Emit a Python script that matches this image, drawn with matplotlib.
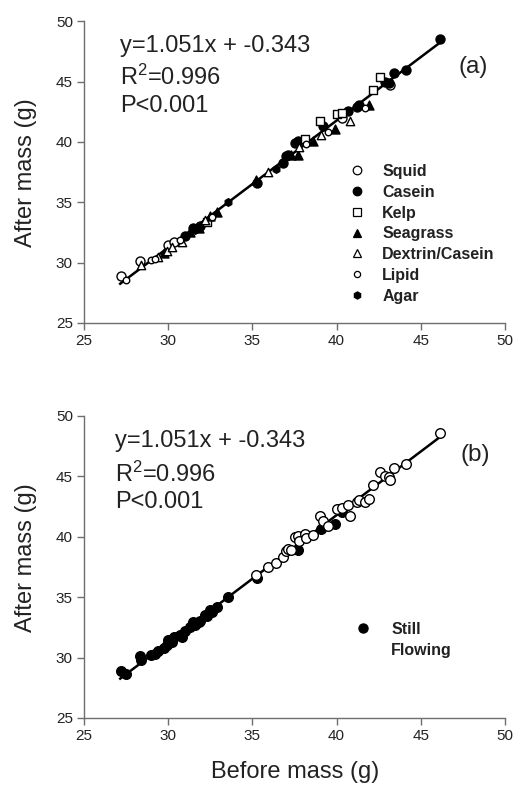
import numpy as np
import matplotlib
matplotlib.use("Agg")
import matplotlib.pyplot as plt
from matplotlib.lines import Line2D

plt.rcParams['font.family'] = ['Liberation Sans', 'DejaVu Sans']
plt.rcParams['mathtext.fontset'] = 'custom'
plt.rcParams['mathtext.rm'] = 'Liberation Sans'
plt.rcParams['mathtext.it'] = 'Liberation Sans'

# ---- data ----
before = [27.2, 27.5, 28.3, 28.4, 28.95, 29.2, 29.4, 29.75, 29.9, 30.0,
          30.2, 30.35, 30.7, 30.8, 31.0, 31.3, 31.45, 31.6, 31.8, 31.9,
          32.2, 32.3, 32.6, 32.5, 32.9, 33.55, 35.2, 35.3, 35.9, 36.4,
          36.8, 37.0, 37.1, 37.3, 37.55, 37.7, 37.75, 37.7, 38.15, 38.2,
          38.6, 39.0, 39.1, 39.2, 39.5, 39.9, 40.0, 40.3, 40.3, 40.7,
          40.8, 41.2, 41.35, 41.7, 41.9, 42.15, 42.6, 42.9, 43.1, 43.2,
          43.4, 44.1, 46.15]
after = [28.9, 28.6, 30.1, 29.8, 30.2, 30.3, 30.5, 30.8, 31.0, 31.45,
         31.3, 31.7, 31.9, 31.7, 32.2, 32.5, 32.9, 32.7, 32.9, 33.0,
         33.5, 33.4, 33.75, 33.9, 34.2, 35.0, 36.85, 36.6, 37.5, 37.8,
         38.3, 38.85, 38.95, 38.9, 39.95, 40.05, 39.6, 38.9, 40.25, 39.85,
         40.1, 41.7, 40.6, 41.3, 40.85, 41.05, 42.3, 42.4, 42.0, 42.6,
         41.7, 42.9, 43.05, 42.85, 43.1, 44.3, 45.35, 45.0, 44.9, 44.7,
         45.7, 46.0, 48.55]
diet = ['Squid', 'Lipid', 'Squid', 'Dextrin/Casein', 'Lipid', 'Lipid', 'Dextrin/Casein', 'Seagrass', 'Dextrin/Casein', 'Squid',
        'Dextrin/Casein', 'Squid', 'Lipid', 'Dextrin/Casein', 'Casein', 'Seagrass', 'Casein', 'Agar', 'Seagrass', 'Casein',
        'Dextrin/Casein', 'Kelp', 'Lipid', 'Seagrass', 'Seagrass', 'Agar', 'Seagrass', 'Casein', 'Dextrin/Casein', 'Agar',
        'Casein', 'Casein', 'Casein', 'Seagrass', 'Casein', 'Casein', 'Dextrin/Casein', 'Seagrass', 'Kelp', 'Lipid',
        'Seagrass', 'Kelp', 'Dextrin/Casein', 'Casein', 'Lipid', 'Seagrass', 'Kelp', 'Kelp', 'Squid', 'Casein',
        'Dextrin/Casein', 'Casein', 'Casein', 'Lipid', 'Seagrass', 'Kelp', 'Kelp', 'Casein', 'Casein', 'Squid',
        'Casein', 'Casein', 'Casein']
flow = ['Still'] * 26 + ['Flowing', 'Still', 'Flowing', 'Flowing',
        'Flowing', 'Flowing', 'Flowing', 'Flowing', 'Flowing', 'Flowing', 'Flowing', 'Still', 'Flowing', 'Flowing',
        'Flowing', 'Flowing', 'Still', 'Flowing', 'Flowing', 'Still', 'Flowing', 'Flowing', 'Still', 'Flowing',
        'Flowing', 'Flowing', 'Flowing', 'Flowing', 'Flowing', 'Flowing', 'Flowing', 'Flowing', 'Flowing', 'Flowing',
        'Flowing', 'Flowing', 'Flowing']

diet_order = ['Squid', 'Casein', 'Kelp', 'Seagrass', 'Dextrin/Casein', 'Lipid', 'Agar']
eq_lines = ['y=1.051x + -0.343', r'R$^{2}$=0.996', 'P<0.001']
ticks = [25, 30, 35, 40, 45, 50]

styles = {
    'Squid': dict(marker='o', s=42, fc='white'),
    'Casein': dict(marker='o', s=42, fc='black'),
    'Kelp': dict(marker='s', s=32, fc='white'),
    'Seagrass': dict(marker='^', s=42, fc='black'),
    'Dextrin/Casein': dict(marker='^', s=36, fc='white'),
    'Lipid': dict(marker='o', s=22, fc='white'),
    'Agar': dict(marker='h', s=30, fc='black'),
}

before_a = np.array(before)
after_a = np.array(after)
diet_a = np.array(diet)
flow_a = np.array(flow)

slope, icpt = np.polyfit(before_a, after_a, 1)
xl = np.array([before_a.min() - 0.05, before_a.max()])

fig = plt.figure(figsize=(5.16, 7.87), dpi=100)
ax1 = fig.add_axes([0.1628, 0.5896, 0.8159, 0.3833])
ax2 = fig.add_axes([0.1628, 0.0877, 0.8159, 0.3841])

spine_c = '#6e6e6e'
for ax in (ax1, ax2):
    ax.set_xlim(25, 50)
    ax.set_ylim(25, 50)
    ax.set_xticks(ticks)
    ax.set_yticks(ticks)
    for s in ('top', 'right'):
        ax.spines[s].set_visible(False)
    for s in ('left', 'bottom'):
        ax.spines[s].set_color(spine_c)
        ax.spines[s].set_linewidth(1.0)
    ax.tick_params(direction='out', length=5, width=1, color=spine_c,
                   labelsize=11, labelcolor='#222222', pad=3)
    ax.plot(xl, slope * xl + icpt, color='black', lw=1.8, zorder=1)
    ax.set_ylabel('After mass (g)', fontsize=17, color='#222222')

# panel (a)
for d in diet_order:
    m = diet_a == d
    st = styles[d]
    ax1.scatter(before_a[m], after_a[m], marker=st['marker'], s=st['s'],
                facecolors=st['fc'], edgecolors='black', linewidths=1.0, zorder=3)

handles = []
for d in diet_order:
    st = styles[d]
    handles.append(Line2D([], [], ls='none', marker=st['marker'],
                          markersize=np.sqrt(st['s']) * 0.95,
                          markerfacecolor=st['fc'], markeredgecolor='black',
                          markeredgewidth=0.9))
leg1 = ax1.legend(handles, diet_order, loc='upper left', bbox_to_anchor=(0.629, 0.527),
                  frameon=False, borderpad=0, borderaxespad=0, handlelength=1.0,
                  handletextpad=1.1, labelspacing=0.36,
                  prop={'size': 11.5, 'weight': 'bold'})
for t in leg1.get_texts():
    t.set_color('#222222')

# panel (b)
for fl, fc in (('Still', 'black'), ('Flowing', 'white')):
    m = flow_a == fl
    ax2.scatter(before_a[m], after_a[m], marker='o', s=48, facecolors=fc,
                edgecolors='black', linewidths=1.0, zorder=3)

h2 = [Line2D([], [], ls='none', marker='o', markersize=6.5, markerfacecolor='black',
             markeredgecolor='black'),
      Line2D([], [], ls='none', marker='o', markersize=6.5, markerfacecolor='none',
             markeredgecolor='none')]
leg2 = ax2.legend(h2, ['Still', 'Flowing'], loc='upper left', bbox_to_anchor=(0.644, 0.318),
                  frameon=False, borderpad=0, borderaxespad=0, handlelength=1.0,
                  handletextpad=1.25, labelspacing=0.36,
                  prop={'size': 11.5, 'weight': 'bold'})
for t in leg2.get_texts():
    t.set_color('#222222')

# annotations
for ax, x0, ys, lab, lx, ly in ((ax1, 0.0855, (0.899, 0.789, 0.700), '(a)', 0.924, 0.849),
                                (ax2, 0.0736, (0.897, 0.782, 0.694), '(b)', 0.929, 0.870)):
    for txt, yy in zip(eq_lines, ys):
        ax.text(x0, yy, txt, transform=ax.transAxes, fontsize=17, va='baseline',
                ha='left', color='#222222')
    ax.text(lx, ly, lab, transform=ax.transAxes, fontsize=17.5, va='center',
            ha='center', color='#222222')

ax1.yaxis.set_label_coords(-0.112, 0.50)
ax2.yaxis.set_label_coords(-0.112, 0.53)
ax2.set_xlabel('Before mass (g)', fontsize=17, color='#222222')
ax2.xaxis.set_label_coords(0.501, -0.142)

fig.savefig('out.png', dpi=100)
